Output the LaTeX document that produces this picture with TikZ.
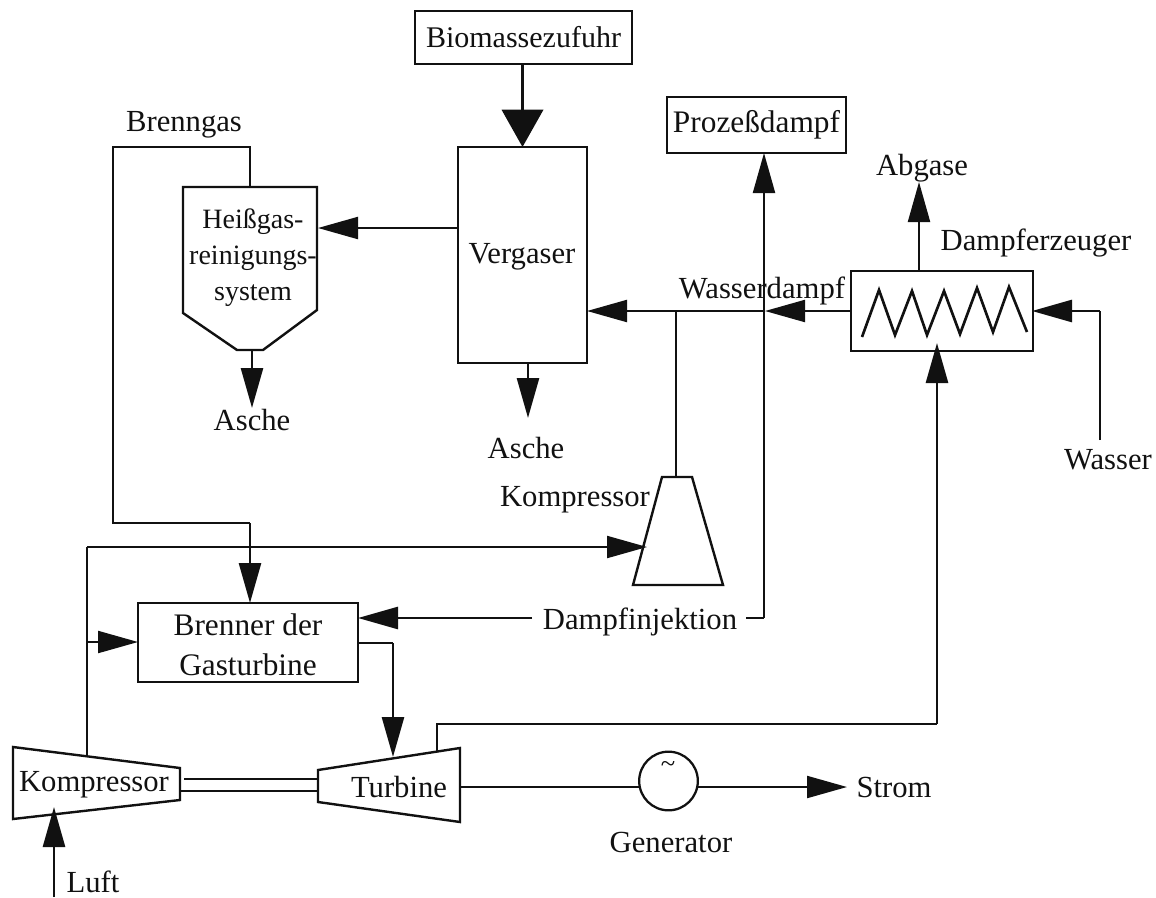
\documentclass[tikz,border=0pt]{standalone}
\usepackage{fontspec}
\setmainfont{Liberation Serif}
\usetikzlibrary{arrows.meta}
\definecolor{ink}{HTML}{111111}
\tikzset{
  box/.style={draw=ink,line width=1.7pt,inner sep=0pt,outer sep=0pt,align=center,text=ink,font=\fontsize{23.5}{30}\selectfont},
  lbl/.style={text=ink,inner sep=0pt,font=\fontsize{23}{28}\selectfont},
  pipe/.style={draw=ink,line width=1.6pt,line join=miter},
  thickpipe/.style={pipe,line width=2pt},
  bigtip/.style={-{Triangle[length=28pt,width=31pt]}},
  midtip/.style={-{Triangle[length=30pt,width=16.5pt]}},
  outl/.style={draw=ink,line width=1.8pt,line join=miter},
}
\begin{document}
\begin{tikzpicture}[x=0.75pt,y=-0.75pt]
\useasboundingbox (0,0) rectangle (1156,897);
% boxes
\node[box,minimum width=162.75pt,minimum height=40pt,font=\fontsize{22.5}{24}\selectfont] (bio) at (523.5,37.5) {Biomassezufuhr};
\node[box,minimum width=96.75pt,minimum height=162pt] (verg) at (522.5,255) {};
\node[lbl] (verglbl) at (522,257) {Vergaser};
\node[box,minimum width=134.25pt,minimum height=42pt] (proz) at (756.5,125) {Prozeßdampf};
\node[box,minimum width=136.5pt,minimum height=60pt] (dampf) at (942,311) {};
\node[box,minimum width=165pt,minimum height=59.25pt] (brenner) at (248,642.5) {};
\node[lbl,align=center,font=\fontsize{23.5}{30}\selectfont] (brlbl) at (248,645) {Brenner der\\Gasturbine};
% outlined shapes
\coordinate (hga) at (183,187);\coordinate (hgb) at (317,187);\coordinate (hgc) at (317,310);
\coordinate (hgd) at (263,350);\coordinate (hge) at (237,350);\coordinate (hgf) at (183,313);
\draw[outl] (hga)--(hgb)--(hgc)--(hgd)--(hge)--(hgf)--cycle;
\node[lbl,align=center,font=\fontsize{21}{27}\selectfont] (hglbl) at (253,258) {Heißgas-\\reinigungs-\\system};
\coordinate (kaa) at (662,477);\coordinate (kab) at (692,477);\coordinate (kac) at (723,585);\coordinate (kad) at (633,585);
\draw[outl] (kaa)--(kab)--(kac)--(kad)--cycle;
\coordinate (kba) at (13,747);\coordinate (kbb) at (180,768);\coordinate (kbc) at (180,800);\coordinate (kbd) at (13,819);
\draw[outl] (kba)--(kbb)--(kbc)--(kbd)--cycle;
\coordinate (ta) at (318,770);\coordinate (tb) at (460,748);\coordinate (tc) at (460,822);\coordinate (td) at (318,802);
\draw[outl] (ta)--(tb)--(tc)--(td)--cycle;
\node[draw=ink,line width=1.7pt,circle,minimum size=44pt,inner sep=0pt,outer sep=0pt] (gen) at (668.5,781) {};
\node[lbl,font=\fontsize{20}{20}\selectfont] (genlbl) at (668,767) {\textasciitilde};
% zigzag
\draw[outl,line width=2pt] (862,337)--(879,290)--(895,335)--(912,291)--(927,335)--(944,291)--(960,334)--(977,288)--(993,332)--(1009,287)--(1027,332);
% labels
\node[lbl] (lbrenn) at (184,125) {Brenngas};
\node[lbl] (lab) at (922,168) {Abgase};
\node[lbl] (ldz) at (1036,243) {Dampferzeuger};
\node[lbl] (lwd) at (762,291) {Wasserdampf};
\node[lbl] (lwa) at (1108,460) {Wasser};
\node[lbl] (las1) at (252,420) {Asche};
\node[lbl] (las2) at (526,448) {Asche};
\node[lbl] (lko) at (575,500) {Kompressor};
\node[lbl] (ldi) at (640,622) {Dampfinjektion};
\node[lbl] (lk2) at (94,785) {Kompressor};
\node[lbl] (ltu) at (399,787) {Turbine};
\node[lbl] (lge) at (671,842) {Generator};
\node[lbl] (lst) at (894,787) {Strom};
\node[lbl] (llu) at (93,882) {Luft};
% junctions
\coordinate (bgl) at (113,147);\coordinate (bgr) at (250,147);\coordinate (bgd) at (113,523);\coordinate (bgb) at (250,523);
\coordinate (air) at (87,757);\coordinate (airt) at (87,547);\coordinate (airk) at (647,547);
\coordinate (steam) at (676,311);\coordinate (cross) at (765,311);
\coordinate (inj) at (764,618);\coordinate (injs) at (746,618);
\coordinate (ex) at (437,752);\coordinate (ext) at (437,724);\coordinate (exr) at (937,724);
\coordinate (wa) at (1100,440);\coordinate (wb) at (1100,311);
\coordinate (burn) at (393,643);
\coordinate (luftf) at (54,897);
% connectors
\draw[thickpipe,bigtip] (bio.south -| verg.north) -- (verg.north);
\draw[pipe,midtip] (verg.west |- 0,228) -- (318,228);
\draw[pipe] (hga -| bgr) -- (bgr) -- (bgl) -- (bgd) -- (bgb);
\draw[thickpipe,midtip] (bgb) -- (brenner.north -| bgb);
\draw[thickpipe,midtip] (252,350) -- (252,408);
\draw[thickpipe,midtip] (verg.south -| 528,0) -- (528,418);
\draw[pipe,midtip] (dampf.west |- cross) -- (cross);
\draw[pipe,midtip] (cross) -- (verg.east |- cross);
\draw[pipe] (steam) -- (kaa -| steam);
\draw[pipe,midtip] (inj) -- (proz.south -| inj);
\draw[pipe] (injs) -- (inj);
\draw[pipe] (air) -- (airt);
\draw[pipe,midtip] (airt) -- (airk);
\draw[pipe,midtip] (87,642) -- (brenner.west |- 0,642);
\draw[thickpipe,midtip] (532,618) -- (brenner.east |- 0,618);
\draw[pipe] (brenner.east |- burn) -- (burn);
\draw[thickpipe,midtip] (burn) -- (393,757);
\draw[pipe] (ex) -- (ext) -- (exr);
\draw[thickpipe,midtip] (exr) -- (937,343);
\draw[pipe,midtip] (919,270) -- (919,182);
\draw[pipe] (wa) -- (wb);
\draw[thickpipe,midtip] (wb) -- (1032,311);
\draw[thickpipe,midtip] (luftf) -- (54,807);
\draw[pipe] (184,779) -- (318,779);
\draw[thickpipe] (180,791) -- (318,791);
\draw[pipe] (460,787) -- (gen.west |- 0,787);
\draw[pipe,midtip] (gen.east |- 0,787) -- (847,787);
\end{tikzpicture}
\end{document}
